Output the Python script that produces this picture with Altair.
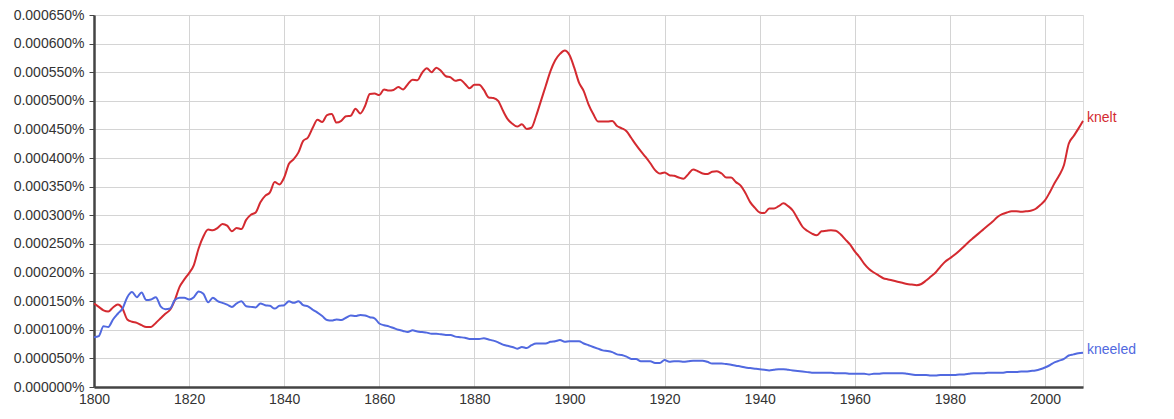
import altair as alt
import pandas as pd

years = list(range(1800, 2009))

# values in units of 0.000001 %
knelt = [
    146, 140, 134, 132, 139, 144, 137, 118, 114, 112,
    108, 105, 105, 112, 120, 128, 135, 152, 175, 188,
    199, 213, 242, 263, 275, 274, 278, 285, 282, 272,
    278, 276, 292, 301, 305, 323, 334, 340, 358, 354,
    366, 390, 398, 410, 430, 436, 453, 467, 463, 475,
    477, 462, 465, 473, 474, 486, 478, 491, 512, 513,
    510, 520, 518, 519, 524, 520, 529, 537, 536, 549,
    557, 550, 558, 552, 543, 541, 535, 537, 530, 522,
    528, 528, 519, 506, 505, 500, 483, 468, 460, 455,
    459, 451, 453, 474, 500, 526, 552, 571, 582, 588,
    580, 558, 532, 517, 494, 477, 464, 464, 464, 465,
    456, 452, 447, 435, 423, 412, 402, 391, 379, 373,
    375, 370, 369, 366, 364, 372, 380, 377, 373, 372,
    376, 377, 373, 366, 366, 358, 352, 339, 323, 313,
    305, 304, 312, 312, 316, 321, 316, 308, 294, 280,
    273, 268, 265, 272, 273, 274, 273, 267, 258, 249,
    237, 227, 215, 206, 200, 195, 190, 188, 186, 184,
    182, 180, 179, 178, 180, 186, 193, 200, 210, 219,
    225, 231, 238, 246, 254, 261, 268, 275, 282, 289,
    297, 302, 305, 307, 307, 306, 307, 308, 311, 318,
    326, 340, 356, 370, 388, 425, 438, 451, 465,
]

kneeled = [
    87, 89, 106, 105, 118, 128, 137, 157, 166, 157,
    165, 152, 153, 157, 141, 136, 137, 152, 156, 156,
    153, 157, 167, 163, 148, 156, 150, 147, 144, 140,
    146, 150, 141, 140, 139, 146, 143, 142, 137, 142,
    143, 150, 147, 150, 143, 141, 135, 130, 124, 117,
    116, 118, 117, 121, 125, 124, 126, 125, 122, 120,
    111, 108, 106, 103, 100, 98, 96, 99, 97, 96,
    95, 93, 93, 92, 91, 91, 88, 87, 86, 84,
    84, 84, 85, 83, 81, 78, 74, 72, 70, 67,
    70, 68, 73, 76, 76, 76, 79, 80, 82, 79,
    80, 80, 80, 76, 73, 70, 67, 64, 63, 61,
    57, 56, 53, 49, 49, 45, 45, 45, 42, 42,
    47, 44, 45, 45, 44, 45, 46, 46, 46, 44,
    41, 41, 41, 40, 39, 37, 36, 34, 33, 32,
    31, 30, 29, 30, 31, 31, 30, 29, 28, 27,
    26, 25, 25, 25, 25, 25, 24, 24, 24, 23,
    23, 23, 23, 22, 23, 23, 24, 24, 24, 24,
    24, 23, 22, 21, 21, 21, 20, 20, 21, 21,
    21, 21, 22, 22, 23, 24, 24, 24, 25, 25,
    25, 25, 26, 26, 26, 27, 27, 28, 29, 31,
    34, 38, 43, 46, 49, 55, 57, 59, 60,
]

series_names = ["knelt", "kneeled"]
series_colors = ["#d42a30", "#5169e0"]
x_ticks = [1800, 1820, 1840, 1860, 1880, 1900, 1920, 1940, 1960, 1980, 2000]
y_ticks = [0, 50, 100, 150, 200, 250, 300, 350, 400, 450, 500, 550, 600, 650]

rows = []
for name, vals in zip(series_names, [knelt, kneeled]):
    for y, v in zip(years, vals):
        rows.append({"year": y, "value": v, "ngram": name})
df = pd.DataFrame(rows)

labels = pd.DataFrame({
    "year": [years[-1], years[-1]],
    "value": [knelt[-1], kneeled[-1]],
    "ngram": series_names,
})

FONT = "Liberation Sans"

x_enc = alt.X(
    "year:Q",
    scale=alt.Scale(domain=[1800, 2008], nice=False, zero=False),
    axis=alt.Axis(
        values=x_ticks, format="d", title=None, grid=True,
        gridColor="#d4d4d4", gridWidth=1,
        domainColor="#444444", domainWidth=2.5,
        ticks=False, labelPadding=5, labelFlush=False, labelOverlap=False,
        labelFont=FONT, labelFontSize=14, labelColor="#333333",
    ),
)
# values are stored in millionths of a percent; label them as percentages
y_enc = alt.Y(
    "value:Q",
    scale=alt.Scale(domain=[0, 650], nice=False),
    axis=alt.Axis(
        values=y_ticks, title=None,
        labelExpr="format(datum.value / 1000000, '.6f') + '%'",
        grid=True, gridColor="#d4d4d4", gridWidth=1,
        domainColor="#444444", domainWidth=2.5,
        tickColor="#444444", tickSize=5, tickWidth=1, labelPadding=5,
        labelFlush=False, labelOverlap=False,
        labelFont=FONT, labelFontSize=14, labelColor="#333333",
    ),
)
color_enc = alt.Color(
    "ngram:N",
    scale=alt.Scale(domain=series_names, range=series_colors),
    legend=None,
)

lines = alt.Chart(df).mark_line(strokeWidth=2, interpolate="monotone").encode(
    x=x_enc, y=y_enc, color=color_enc
)

text = alt.Chart(labels).mark_text(
    align="left", baseline="middle", dx=4, dy=-3, font=FONT, fontSize=14
).encode(
    x=x_enc, y=y_enc, text="ngram:N", color=color_enc
)

chart = alt.layer(lines, text).properties(
    width=989,
    height=372,
    autosize=alt.AutoSizeParams(type="none"),
    padding={"left": 86, "top": 7, "right": 80, "bottom": 25},
).configure_view(stroke=None).configure(background="white")

chart.save("out.html", embed_options={"renderer": "svg", "actions": False})
